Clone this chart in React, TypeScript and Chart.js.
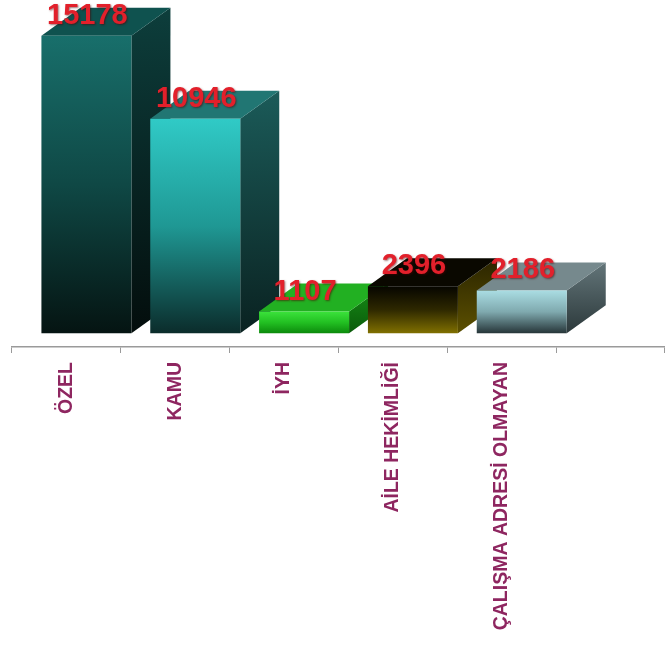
import React, { useEffect, useRef } from "react";
import { Chart, registerables } from "chart.js";

Chart.register(...registerables);

const CATEGORIES = ["ÖZEL", "KAMU", "İYH", "AİLE HEKİMLİĞİ", "ÇALIŞMA ADRESİ OLMAYAN", ""];
const VALUES: (number | null)[] = [15178, 10946, 1107, 2396, 2186, null];
const VALUE_LABELS = ["15178", "10946", "1107", "2396", "2186", ""];

// per-bar colour sets: front gradient (top, middle, bottom), top face, side gradient (top, bottom)
const FRONT_TOP = ["#186F6B", "#30CAC6", "#3BE23B", "#060500", "#AADDE3"];
const FRONT_MID = ["#0F4845", "#1F9894", "#22C022", "#2E2800", "#7FA9AE"];
const FRONT_BOTTOM = ["#051412", "#0B2C2B", "#0C8A0C", "#807000", "#263538"];
const TOP_FACE = ["#0F524F", "#217673", "#22B022", "#0A0800", "#76898D"];
const SIDE_TOP = ["#0D3E3C", "#1B5B59", "#179017", "#2A2400", "#637579"];
const SIDE_BOTTOM = ["#030D0C", "#0A2221", "#0A5A0A", "#5C5000", "#2C393B"];

const DX = 39;
const DY = -28;

const ok = (...n: number[]) => n.every((v) => Number.isFinite(v));

const depthPlugin = {
  id: "depth3d",
  beforeDatasetsDraw(chart: any) {
    const meta = chart.getDatasetMeta(1);
    const ctx = chart.ctx as CanvasRenderingContext2D;
    ctx.save();
    meta.data.forEach((el: any, i: number) => {
      if (VALUES[i] == null) return;
      const { x, y, base, width } = el.getProps(["x", "y", "base", "width"], true);
      if (!ok(x, y, base, width)) return;
      const L = x - width / 2;
      const R = x + width / 2;
      const T = y;
      const B = base;
      const sg = ctx.createLinearGradient(0, T + DY, 0, B);
      sg.addColorStop(0, SIDE_TOP[i]);
      sg.addColorStop(1, SIDE_BOTTOM[i]);
      ctx.fillStyle = sg;
      ctx.beginPath();
      ctx.moveTo(R, T);
      ctx.lineTo(R + DX, T + DY);
      ctx.lineTo(R + DX, B + DY);
      ctx.lineTo(R, B);
      ctx.closePath();
      ctx.fill();
      ctx.fillStyle = TOP_FACE[i];
      ctx.beginPath();
      ctx.moveTo(L, T);
      ctx.lineTo(R, T);
      ctx.lineTo(R + DX, T + DY);
      ctx.lineTo(L + DX, T + DY);
      ctx.closePath();
      ctx.fill();
    });
    ctx.restore();
  },
  afterDatasetsDraw(chart: any) {
    const meta = chart.getDatasetMeta(1);
    const ctx = chart.ctx as CanvasRenderingContext2D;
    ctx.save();
    ctx.font = "bold 29px 'Liberation Sans', Arial, sans-serif";
    ctx.textAlign = "center";
    ctx.textBaseline = "alphabetic";
    ctx.shadowColor = "rgba(80,0,0,0.55)";
    ctx.shadowOffsetX = 1;
    ctx.shadowOffsetY = 1;
    ctx.shadowBlur = 2;
    ctx.fillStyle = "#E2202B";
    meta.data.forEach((el: any, i: number) => {
      if (VALUES[i] == null) return;
      const { x, y } = el.getProps(["x", "y"], true);
      if (!ok(x, y)) return;
      ctx.fillText(VALUE_LABELS[i], x + 1, y - 12);
    });
    ctx.restore();
  },
};

export default function App() {
  const ref = useRef<HTMLCanvasElement | null>(null);
  useEffect(() => {
    if (!ref.current) return;
    const chart = new Chart(ref.current, {
      type: "bar",
      data: {
        labels: CATEGORIES,
        datasets: [
          { label: "spacer", data: VALUES.map(() => null) },
          {
            label: "values",
            data: VALUES,
            borderWidth: 0,
            backgroundColor: (c: any) => {
              const i = c.dataIndex;
              const chartObj = c.chart;
              const ys = chartObj.scales?.y;
              if (!ys || i == null || VALUES[i] == null) return FRONT_TOP[0];
              const top = ys.getPixelForValue(VALUES[i] as number);
              const bottom = ys.getPixelForValue(0);
              if (!ok(top, bottom) || top === bottom) return FRONT_TOP[i];
              const g = chartObj.ctx.createLinearGradient(0, top, 0, bottom);
              g.addColorStop(0, FRONT_TOP[i]);
              g.addColorStop(0.5, FRONT_MID[i]);
              g.addColorStop(1, FRONT_BOTTOM[i]);
              return g;
            },
          },
        ],
      },
      options: {
        animation: false,
        responsive: true,
        maintainAspectRatio: false,
        categoryPercentage: 0.735,
        barPercentage: 2.25,
        layout: { padding: { left: 12, right: 0, top: 0, bottom: 0 } },
        plugins: {
          legend: { display: false },
          tooltip: { enabled: false },
        },
        scales: {
          x: {
            type: "category",
            grid: {
              display: true,
              drawOnChartArea: false,
              drawTicks: true,
              tickLength: 6,
              color: "#9a9a9a",
              offset: true,
            },
            border: { display: true, color: "#9a9a9a", width: 1.5 },
            ticks: {
              autoSkip: false,
              maxRotation: 90,
              minRotation: 90,
              padding: 9,
              color: "#8E2660",
              font: { family: "'Liberation Sans', Arial, sans-serif", weight: "bold", size: 19.5 },
            },
            afterFit: (s: any) => {
              s.height = 299;
            },
          },
          y: {
            display: false,
            min: -700,
            max: 17000,
          },
        },
      } as any,
      plugins: [depthPlugin],
    });
    return () => chart.destroy();
  }, []);
  return (
    <div style={{ position: "fixed", left: 0, top: 0, width: 665, height: 646, background: "#fff" }}>
      <canvas ref={ref} />
    </div>
  );
}
